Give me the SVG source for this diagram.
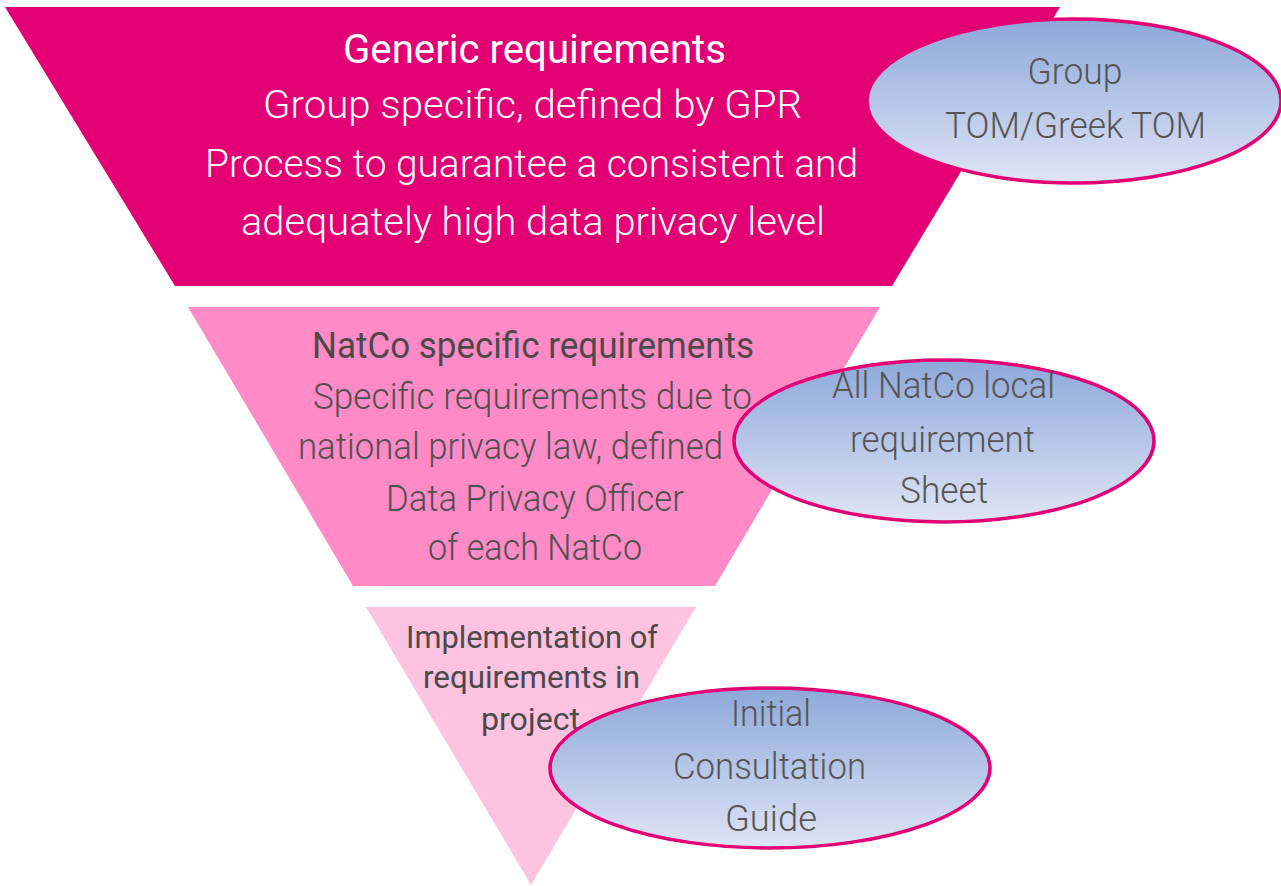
<svg xmlns="http://www.w3.org/2000/svg" width="1281" height="886" viewBox="0 0 1281 886">
<defs>
<linearGradient id="blueGrad" x1="0" y1="0" x2="0" y2="1">
<stop offset="0" stop-color="#8DA8DA"/>
<stop offset="1" stop-color="#DFE4F4"/>
</linearGradient>
<style>
text{font-family:Roboto,"Liberation Sans",sans-serif;text-anchor:middle}
.w{fill:#FFFFFF;font-size:38px;font-weight:300}
.wt{fill:#FFFFFF;font-size:40px;font-weight:400}
.g{fill:#505050;font-size:36px;font-weight:300}
.gt{fill:#4A4A4A;font-size:36px;font-weight:400}
.gs{fill:#4A4A4A;font-size:31px;font-weight:400}
.e{fill:#555555;font-size:37px;font-weight:300}
.ell{fill:url(#blueGrad);stroke:#E20074;stroke-width:3.5}
</style>
</defs>
<rect width="1281" height="886" fill="#FFFFFF"/>
<g id="level1">
<polygon points="5,7 1060,7 892,286 175,286" fill="#E20074"/>
<text class="wt" x="534.5" y="63" textLength="383" lengthAdjust="spacingAndGlyphs">Generic requirements</text>
<text class="w" x="532.5" y="118" textLength="539" lengthAdjust="spacingAndGlyphs">Group specific, defined by GPR</text>
<text class="w" x="531.5" y="177" textLength="653" lengthAdjust="spacingAndGlyphs">Process to guarantee a consistent and</text>
<text class="w" x="533" y="235" textLength="584" lengthAdjust="spacingAndGlyphs">adequately high data privacy level</text>
</g>
<g id="ellipse1">
<ellipse class="ell" cx="1074" cy="101" rx="207" ry="82"/>
<text class="e" x="1075" y="84" textLength="95" lengthAdjust="spacingAndGlyphs">Group</text>
<text class="e" x="1075.5" y="138" textLength="261" lengthAdjust="spacingAndGlyphs">TOM/Greek TOM</text>
</g>
<g id="level2">
<polygon points="188,307 880,307 715,586 353,586" fill="#FF8AC6"/>
<text class="gt" x="533" y="358" textLength="442" lengthAdjust="spacingAndGlyphs">NatCo specific requirements</text>
<text class="g" x="532.5" y="409" textLength="439" lengthAdjust="spacingAndGlyphs">Specific requirements due to</text>
<text class="g" x="510.5" y="459" textLength="425" lengthAdjust="spacingAndGlyphs">national privacy law, defined</text>
<text class="g" x="535" y="511" textLength="298" lengthAdjust="spacingAndGlyphs">Data Privacy Officer</text>
<text class="g" x="535" y="560" textLength="214" lengthAdjust="spacingAndGlyphs">of each NatCo</text>
</g>
<g id="ellipse2">
<ellipse class="ell" cx="944" cy="441" rx="210" ry="81"/>
<text class="e" x="943.5" y="398" textLength="223" lengthAdjust="spacingAndGlyphs">All NatCo local</text>
<text class="e" x="942.5" y="452" textLength="185" lengthAdjust="spacingAndGlyphs">requirement</text>
<text class="e" x="944" y="503" textLength="88" lengthAdjust="spacingAndGlyphs">Sheet</text>
</g>
<g id="level3">
<polygon points="366,607 696,607 531,885" fill="#FDC3E1"/>
<text class="gs" x="532" y="648" textLength="252" lengthAdjust="spacingAndGlyphs">Implementation of</text>
<text class="gs" x="531.5" y="688" textLength="217" lengthAdjust="spacingAndGlyphs">requirements in</text>
<text class="gs" x="530.5" y="730" textLength="99" lengthAdjust="spacingAndGlyphs">project</text>
</g>
<g id="ellipse3">
<ellipse class="ell" cx="770" cy="768" rx="220" ry="80"/>
<text class="e" x="771" y="726" textLength="80" lengthAdjust="spacingAndGlyphs">Initial</text>
<text class="e" x="769.5" y="779" textLength="193" lengthAdjust="spacingAndGlyphs">Consultation</text>
<text class="e" x="771" y="831" textLength="92" lengthAdjust="spacingAndGlyphs">Guide</text>
</g>
<g id="connectors"/>
</svg>
